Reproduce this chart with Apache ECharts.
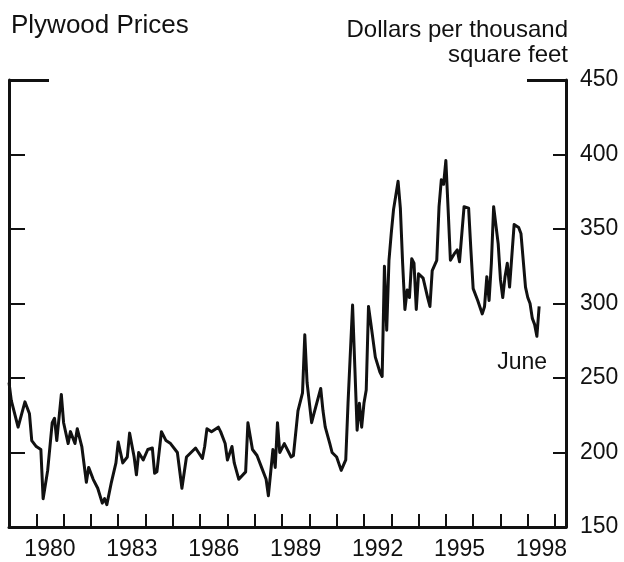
<!DOCTYPE html>
<html>
<head>
<meta charset="utf-8">
<script src="https://cdn.jsdelivr.net/npm/echarts@6/dist/echarts.min.js"></script>
<style>
    html, body { margin: 0; padding: 0; background: #fff; }
    #chart { width: 624px; height: 562px; }
</style>
</head>
<body>
<div id="chart"></div>
<script>
// monthly points (dollars per thousand square feet)
const months = [
    '1979-01','1979-02','1979-05','1979-08','1979-10','1979-11',
    '1980-01','1980-03','1980-04','1980-06','1980-08','1980-09','1980-10','1980-12',
    '1981-01','1981-03','1981-04','1981-06','1981-07','1981-09','1981-11','1981-12',
    '1982-02','1982-04','1982-06','1982-07','1982-08','1982-10','1982-12',
    '1983-01','1983-03','1983-05','1983-06','1983-08','1983-09','1983-10','1983-12',
    '1984-02','1984-04','1984-05','1984-06','1984-08','1984-10','1984-12',
    '1985-03','1985-05','1985-07','1985-09','1985-11',
    '1986-02','1986-03','1986-04','1986-06','1986-09','1986-10','1986-12',
    '1987-01','1987-03','1987-04','1987-06','1987-09','1987-10','1987-12',
    '1988-02','1988-04','1988-06','1988-07','1988-09','1988-10','1988-11','1988-12',
    '1989-02','1989-05','1989-06','1989-08','1989-10','1989-11','1989-12',
    '1990-02','1990-03','1990-06','1990-07','1990-08','1990-10','1990-11',
    '1991-01','1991-03','1991-05','1991-06','1991-08','1991-09','1991-10','1991-11','1991-12',
    '1992-01','1992-02','1992-03','1992-04','1992-06','1992-08','1992-09','1992-10','1992-11','1992-12',
    '1993-01','1993-02','1993-04','1993-05','1993-06','1993-07','1993-08','1993-09','1993-10','1993-11','1993-12',
    '1994-01','1994-03','1994-05','1994-06','1994-07','1994-09','1994-10','1994-11','1994-12',
    '1995-01','1995-02','1995-03','1995-05','1995-06','1995-07','1995-09','1995-11','1995-12',
    '1996-01','1996-03','1996-05','1996-06','1996-07','1996-08','1996-09','1996-10','1996-12',
    '1997-01','1997-02','1997-03','1997-04','1997-05','1997-07','1997-09','1997-10','1997-12',
    '1998-01','1998-02','1998-03','1998-04','1998-05','1998-06'
];
const prices = [
    247,235,217,234,226,208,
    204,202,169,188,220,223,208,239,
    220,206,214,206,216,204,180,190,
    182,176,166,169,165,180,193,
    207,193,197,213,197,185,200,195,
    202,203,186,187,214,208,206,
    200,176,197,200,203,
    196,204,216,214,217,214,206,
    195,204,193,182,187,220,202,
    198,190,182,171,202,190,220,200,
    206,197,198,228,240,279,247,
    220,226,243,228,217,206,200,
    197,188,195,233,299,257,215,233,217,
    233,242,298,287,264,254,251,325,282,329,
    347,363,382,364,327,296,309,304,330,327,296,
    320,317,304,298,322,329,365,383,380,
    396,363,329,334,336,328,365,364,336,
    310,302,293,298,318,302,327,365,340,
    316,304,318,327,311,353,351,347,311,
    304,300,290,286,278,298
];
const labelYears = [1980,1983,1986,1989,1992,1995,1998];
const yTicks = [200,250,300,350,400];

function toYear(s) {
    let p = s.split('-');
    return +p[0] + (+p[1] - 1) / 12;
}

let data = months.map(function (m, i) { return [toYear(m), prices[i]]; });
let last = data[data.length - 1];

let ink = '#111';
let font = "'Liberation Sans', Arial, sans-serif";

let chart = echarts.init(document.getElementById('chart'));
chart.setOption({
    animation: false,
    backgroundColor: '#fff',
    textStyle: { fontFamily: font, color: ink },
    title: [
        {
            text: 'Plywood Prices',
            left: 6, top: 8,
            textStyle: { fontSize: 26, fontWeight: 'normal', color: ink, fontFamily: font }
        },
        {
            text: 'Dollars per thousand\nsquare feet',
            left: 563, top: 13,
            textAlign: 'right',
            textStyle: { fontSize: 24, fontWeight: 'normal', lineHeight: 25, color: ink, fontFamily: font }
        }
    ],
    grid: { left: 9, right: 58, top: 80, bottom: 35 },
    xAxis: {
        type: 'value',
        min: 1979,
        max: 1999.4,
        interval: 1,
        axisLine: { lineStyle: { color: ink, width: 3 } },
        axisTick: {
            inside: true, length: 13,
            lineStyle: { color: ink, width: 2 }
        },
        axisLabel: {
            customValues: labelYears.map(function (y) { return y + 0.5; }),
            formatter: function (v) { return String(Math.floor(v)); },
            fontSize: 23, color: ink, margin: 11
        },
        splitLine: { show: false }
    },
    yAxis: [
        {
            type: 'value', position: 'right',
            min: 150, max: 450, interval: 50,
            axisLine: { show: true, lineStyle: { color: ink, width: 3 } },
            axisTick: { inside: true, length: 13, customValues: yTicks, lineStyle: { color: ink, width: 2 } },
            axisLabel: { fontSize: 23, color: ink, margin: 14 },
            splitLine: { show: false }
        },
        {
            type: 'value', position: 'left',
            min: 150, max: 450, interval: 50,
            axisLine: { show: true, lineStyle: { color: ink, width: 3 } },
            axisTick: { inside: true, length: 16, customValues: yTicks, lineStyle: { color: ink, width: 2 } },
            axisLabel: { show: false },
            splitLine: { show: false }
        },
        // long ticks at the top (450) on both sides
        {
            type: 'value', position: 'left',
            min: 150, max: 450, interval: 50,
            axisLine: { show: false },
            axisTick: { inside: true, length: 40, customValues: [450], lineStyle: { color: ink, width: 3 } },
            axisLabel: { show: false },
            splitLine: { show: false }
        },
        {
            type: 'value', position: 'right',
            min: 150, max: 450, interval: 50,
            axisLine: { show: false },
            axisTick: { inside: true, length: 39, customValues: [450], lineStyle: { color: ink, width: 3 } },
            axisLabel: { show: false },
            splitLine: { show: false }
        }
    ],
    series: [
        {
            type: 'line',
            yAxisIndex: 0,
            data: data,
            showSymbol: false,
            lineStyle: { color: ink, width: 3, join: 'round' },
            markPoint: {
                symbol: 'circle',
                symbolSize: 0,
                data: [{
                    coord: last,
                    label: {
                        show: true, formatter: 'June', position: 'inside',
                        offset: [-17, 56], fontSize: 23, color: ink, fontFamily: font
                    }
                }]
            }
        }
    ]
});
</script>
</body>
</html>
